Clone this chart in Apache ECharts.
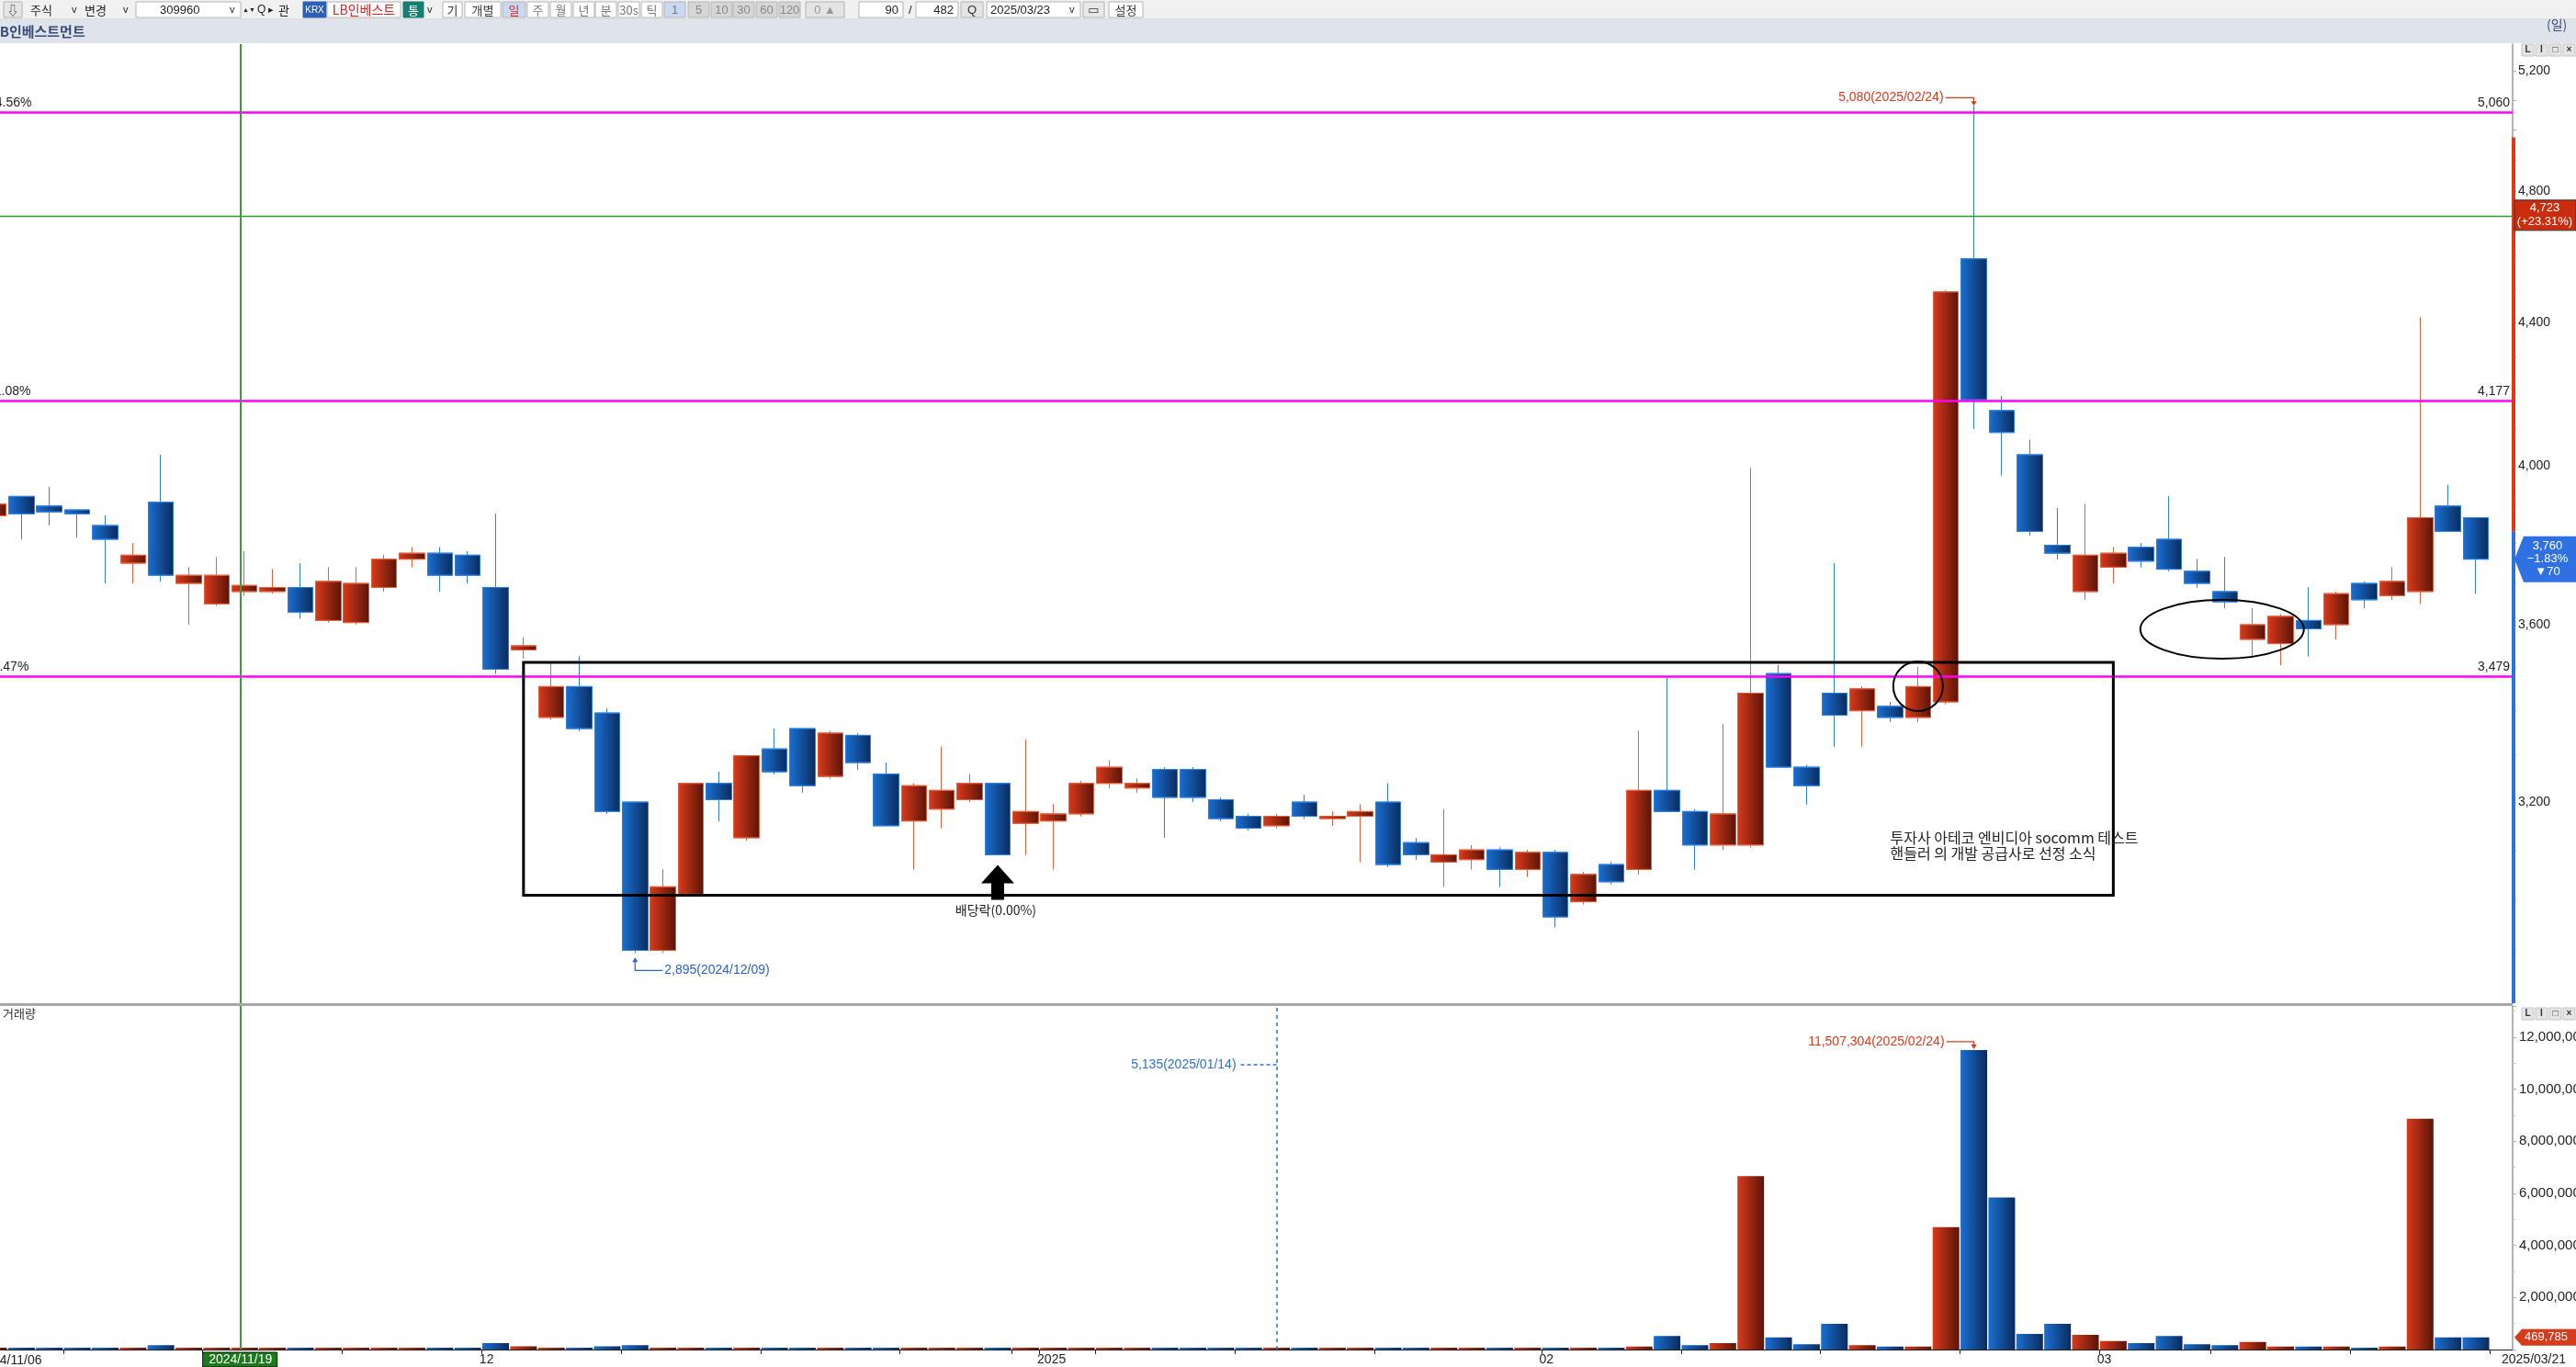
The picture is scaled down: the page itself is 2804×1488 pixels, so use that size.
<!DOCTYPE html>
<html><head><meta charset="utf-8">
<script src="https://cdn.jsdelivr.net/npm/echarts@6/dist/echarts.min.js"></script>
<style>html,body{margin:0;padding:0;background:#fff;overflow:hidden}#c{width:2804px;height:1488px}</style>
</head><body><div id="c"></div><script>
// ---------------- DATA ----------------
const dates = [
'2024/11/06','2024/11/07','2024/11/08','2024/11/11','2024/11/12','2024/11/13','2024/11/14','2024/11/15','2024/11/18','2024/11/19',
'2024/11/20','2024/11/21','2024/11/22','2024/11/25','2024/11/26','2024/11/27','2024/11/28','2024/11/29',
'2024/12/02','2024/12/03','2024/12/04','2024/12/05','2024/12/06','2024/12/09','2024/12/10','2024/12/11','2024/12/12','2024/12/13',
'2024/12/16','2024/12/17','2024/12/18','2024/12/19','2024/12/20','2024/12/23','2024/12/24','2024/12/26','2024/12/27','2024/12/30',
'2025/01/02','2025/01/03','2025/01/06','2025/01/07','2025/01/08','2025/01/09','2025/01/10','2025/01/13','2025/01/14','2025/01/15',
'2025/01/16','2025/01/17','2025/01/20','2025/01/21','2025/01/22','2025/01/23','2025/01/24','2025/01/31',
'2025/02/03','2025/02/04','2025/02/05','2025/02/06','2025/02/07','2025/02/10','2025/02/11','2025/02/12','2025/02/13','2025/02/14',
'2025/02/17','2025/02/18','2025/02/19','2025/02/20','2025/02/21','2025/02/24','2025/02/25','2025/02/26','2025/02/27','2025/02/28',
'2025/03/04','2025/03/05','2025/03/06','2025/03/07','2025/03/10','2025/03/11','2025/03/12','2025/03/13','2025/03/14',
'2025/03/17','2025/03/18','2025/03/19','2025/03/20','2025/03/21'];
const openP = [3870,3920,3895,3885,3845,3750,3905,3700,3650,3680, 3680,3690,3610,3605,3690,3760,3775,3770,
3690,3540,3385,3455,3395,3200,2900,3010,3240,3125, 3315,3360,3255,3345,3260,3160,3185,3205,3240,3155,
3160,3175,3240,3230,3270,3270,3205,3170,3150,3200, 3165,3170,3200,3115,3075,3080,3100,3060,
3095,2995,3070,3060,3225,3180,3110,3110,3485,3275, 3440,3400,3410,3385,3420,4590,4150,4030,3795,3680,
3740,3790,3810,3730,3680,3565,3555,3610,3600, 3700,3670,3680,3895,3865];
const highP = [3910,3920,3945,3885,3870,3800,4030,3740,3765,3780, 3735,3750,3740,3740,3770,3790,3790,3780,
3875,3570,3510,3525,3405,3200,3060,3240,3265,3300, 3360,3360,3355,3350,3285,3240,3320,3260,3240,3335,
3195,3245,3290,3250,3275,3275,3210,3175,3175,3215, 3180,3195,3240,3125,3185,3110,3105,3100,
3100,3055,3075,3355,3475,3185,3370,3995,3505,3280, 3750,3455,3420,3500,4495,5080,4190,4070,3890,3900,
3790,3800,3920,3760,3765,3640,3625,3690,3680, 3705,3740,4415,3950,3865];
const lowP = [3860,3810,3845,3815,3700,3700,3705,3600,3645,3670, 3675,3615,3605,3600,3680,3740,3680,3700,
3485,3520,3380,3355,3175,2895,2895,3005,3160,3120, 3260,3220,3250,3270,3150,3060,3145,3200,3090,3090,
3060,3170,3230,3220,3125,3200,3160,3140,3145,3165, 3150,3075,3065,3080,3025,3060,3025,3045,
2945,2990,3030,3050,3180,3060,3100,3105,3275,3195, 3320,3320,3375,3375,3415,4100,3975,3820,3760,3660,
3700,3740,3730,3690,3640,3525,3505,3525,3565, 3640,3660,3650,3830,3675];
const closeP = [3900,3875,3880,3875,3810,3770,3720,3720,3720,3695, 3690,3630,3705,3700,3760,3775,3720,3720,
3495,3550,3455,3360,3180,2900,3025,3240,3205,3300, 3265,3235,3350,3285,3150,3235,3225,3240,3090,3180,
3175,3240,3275,3240,3210,3210,3165,3145,3170,3170, 3170,3180,3070,3090,3090,3100,3060,3095,
2965,3050,3035,3225,3180,3110,3175,3440,3275,3235, 3390,3450,3385,3455,4490,4180,4090,3830,3775,3770,
3775,3755,3735,3700,3655,3600,3620,3590,3675, 3660,3705,3865,3830,3760];
const volume = [25000,30000,25000,28000,70000,30000,170000,70000,30000,25000, 25000,30000,25000,30000,25000,25000,60000,70000,
250000,120000,70000,60000,120000,170000,30000,70000,25000,25000, 25000,25000,25000,25000,25000,25000,25000,70000,25000,25000,
25000,25000,25000,25000,25000,25000,25000,25000,5135,25000, 25000,25000,70000,25000,25000,25000,25000,25000,
25000,25000,25000,116000,518000,166000,247000,6660000,470000,200000, 988000,166000,116000,116000,4700000,11507304,5840000,600000,988000,564000,
329000,247000,518000,200000,166000,294000,116000,116000,116000, 70000,116000,8870000,470000,469785];
const priceLabelTicks = [3200, 3600, 4000, 4400, 4800, 5200];
const volumeLabelStep = 2000000;
const levelLines = [5060, 4177, 3479];
const levelPct = ['34.56%', '11.08%', '-7.47%'];
const crossPrice = 4723;
const crossIdx = 8.85;
const dividendIdx = 36;
const newsText = ['투자사 아테코 엔비디아 socomm 테스트', '핸들러 의 개발 공급사로 선정 소식'];

// ---------------- LAYOUT ----------------
const slot = 30.36, firstCenter = -7, plotRight = 2735;
const xMin = -firstCenter / slot, xMax = (plotRight - firstCenter) / slot;
const yMin = 2800, yMax = 5293, vMax = 13200000;
const NUMF = "'Liberation Sans Narrow','Liberation Sans','DejaVu Sans',sans-serif";
const KRF = "'Noto Sans CJK KR','Noto Sans',sans-serif";
const fmt = v => Math.round(v).toLocaleString('en-US');
const G = echarts.graphic.LinearGradient;
const redGrad = new G(0,0,1,0,[{offset:0,color:'#d93a1b'},{offset:1,color:'#5a1407'}]);
const blueGrad = new G(0,0,1,0,[{offset:0,color:'#1a6fd2'},{offset:1,color:'#0a2b5c'}]);

const n = dates.length;
const prevClose = closeP[n-2];
const upperLimit = Math.floor(prevClose*1.3/5)*5;
const lowerLimit = Math.max(Math.ceil(prevClose*0.7/5)*5, yMin);

// ticks on date axis: mondays and month starts
const tickVals = [];
dates.forEach((d,i)=>{
  if (i===0) return;
  const dt = new Date(d.replace(/\//g,'-')+'T00:00:00Z');
  const ms = d.slice(5,7)!==dates[i-1].slice(5,7);
  if (dt.getUTCDay()===1 || ms) tickVals.push(i-0.5);
});
tickVals.push(n-0.5);
const xLabels = [];
dates.forEach((d,i)=>{
  if (i===0) return;
  if (d.slice(5,7)!==dates[i-1].slice(5,7)) {
    const t = d.slice(0,4)!==dates[i-1].slice(0,4) ? d.slice(0,4) : d.slice(5,7);
    xLabels.push({v:i-0.5-0.08, t:t});
  }
});
xLabels.push({v:(2723-firstCenter)/slot, t:dates[n-1]});

const priceMinorTicks = [];
for (let p=2900; p<=5200; p+=100) priceMinorTicks.push(p);

const candleData = dates.map((d,i)=>[i, openP[i], closeP[i], lowP[i], highP[i]]);
const volData = volume.map((v,i)=>[i, v, closeP[i]>=openP[i]?1:0]);
const minVolIdx = volume.indexOf(Math.min(...volume));
const maxVolIdx = volume.indexOf(Math.max(...volume));

const mlLabel = {show:true, color:'#222', fontSize:14, fontFamily:NUMF};
const priceML = [];
levelLines.forEach((v,k)=>{
  priceML.push([{x:0, yAxis:v, lineStyle:{color:'#ff00ff', width:2.5, type:'solid'}, label:Object.assign({position:'insideEndTop', formatter:fmt(v), distance:3}, mlLabel)}, {x:plotRight, yAxis:v}]);
});
priceML.push([{x:0, yAxis:crossPrice, lineStyle:{color:'#2f9a2f', width:1.3, type:'solid'}}, {x:plotRight, yAxis:crossPrice}]);
priceML.push({xAxis:crossIdx, lineStyle:{color:'#3c9c3c', width:2, type:'solid'}});
priceML.push([{x:plotRight+1, yAxis:upperLimit, lineStyle:{color:'#dd3a18', width:4, type:'solid'}}, {x:plotRight+1, yAxis:prevClose}]);
priceML.push([{x:plotRight+1, yAxis:prevClose, lineStyle:{color:'#2a72dc', width:4, type:'solid'}}, {x:plotRight+1, yAxis:lowerLimit}]);

const option = {
  animation:false,
  backgroundColor:'#ffffff',
  grid:[{left:0, top:48, width:plotRight, height:1044, containLabel:false, outerBoundsMode:'none'},
        {left:0, top:1095, width:plotRight, height:374, containLabel:false, outerBoundsMode:'none'}],
  xAxis:[
    {type:'value', gridIndex:0, min:xMin, max:xMax, show:false},
    {type:'value', gridIndex:1, min:xMin, max:xMax,
     axisLine:{show:true, onZero:false, lineStyle:{color:'#222', width:1}},
     axisTick:{show:true, customValues:tickVals, length:5, lineStyle:{color:'#222'}},
     splitLine:{show:false},
     axisLabel:{show:true, customValues:xLabels.map(o=>o.v), align:'left', margin:4, fontSize:14, color:'#222', fontFamily:NUMF,
       formatter:(val)=>{let b=xLabels[0]; xLabels.forEach(o=>{if(Math.abs(o.v-val)<Math.abs(b.v-val)) b=o;}); return b.t;}}}
  ],
  yAxis:[
    {type:'log', gridIndex:0, position:'right', min:yMin, max:yMax, logBase:10,
     axisLine:{show:true, lineStyle:{color:'#9a9a9a', width:1.5}},
     axisTick:{show:true, customValues:priceMinorTicks, length:4, lineStyle:{color:'#b0b0b0'}},
     splitLine:{show:false}, minorTick:{show:false},
     axisLabel:{show:true, customValues:priceLabelTicks, formatter:v=>fmt(v), fontSize:14, color:'#222', fontFamily:NUMF, margin:6}},
    {type:'value', gridIndex:1, position:'right', min:0, max:vMax, interval:volumeLabelStep,
     axisLine:{show:true, lineStyle:{color:'#9a9a9a', width:1.5}},
     axisTick:{show:true, length:4, lineStyle:{color:'#b0b0b0'}},
     minorTick:{show:true, splitNumber:2, length:3, lineStyle:{color:'#c8c8c8'}},
     splitLine:{show:false},
     axisLabel:{show:true, showMinLabel:false, showMaxLabel:false, formatter:v=>fmt(v), fontSize:15, color:'#222', fontFamily:NUMF, margin:7}}
  ],
  series:[
    {type:'candlestick', xAxisIndex:0, yAxisIndex:0, data:candleData, encode:{x:0, y:[1,2,3,4]}, barWidth:28, clip:false,
     itemStyle:{color:redGrad, color0:blueGrad, borderColor:'#e2603e', borderColor0:'#2d7fe2', borderWidth:1},
     markLine:{silent:true, symbol:['none','none'], animation:false, label:{show:false}, data:priceML}},
    {type:'custom', xAxisIndex:1, yAxisIndex:1, data:volData, encode:{x:0, y:1}, clip:false,
     renderItem:(params, api)=>{
       const i = api.value(0), v = api.value(1), up = api.value(2);
       const top = api.coord([i, v]), base = api.coord([i, 0]);
       const w = api.size([1, 0])[0] * 0.955;
       const h = Math.max(base[1]-top[1], 2);
       return {type:'rect', shape:{x:top[0]-w/2, y:base[1]-h, width:w, height:h}, style:{fill: up ? redGrad : blueGrad}};
     },
     markLine:{silent:true, symbol:['none','none'], animation:false, label:{show:false},
       data:[{xAxis:crossIdx, lineStyle:{color:'#3c9c3c', width:2, type:'solid'}},
             {xAxis:minVolIdx, lineStyle:{color:'#2f70d0', width:1.5, type:[4,4]}}]}}
  ]
};
const chart = echarts.init(document.getElementById('c'), null, {renderer:'canvas', width:2804, height:1488});
chart.setOption(option);

// ---------------- ANNOTATIONS ----------------
const P = (i,p)=>chart.convertToPixel({gridIndex:0},[i,p]);
const V = (i,v)=>chart.convertToPixel({gridIndex:1},[i,v]);
const els = [];
function T(x,y,text,o){ o=o||{}; els.push({type:'text', x:x, y:y, z:o.z||120, silent:true,
  style:{text:text, fill:o.fill||'#222', fontSize:o.size||13, fontFamily:o.ff||NUMF, fontWeight:o.fw||'normal',
  align:o.al||'left', textAlign:o.al||'left', verticalAlign:o.va||'middle', textVerticalAlign:o.va||'middle'}}); }
function R(x,y,w,h,fill,stroke,lw,z){ els.push({type:'rect', z:z||110, silent:true, shape:{x:x,y:y,width:w,height:h}, style:{fill:fill||'none', stroke:stroke||null, lineWidth:lw||1}}); }
function L(pts,stroke,lw,dash,z){ els.push({type:'polyline', z:z||120, silent:true, shape:{points:pts}, style:{stroke:stroke, lineWidth:lw||1, fill:null, lineDash:dash||null}}); }
function PG(pts,fill,z){ els.push({type:'polygon', z:z||120, silent:true, shape:{points:pts}, style:{fill:fill}}); }

// toolbar
R(0,0,2804,21,'#f1f1f1',null,0,100);
L([[0,21],[2804,21]],'#c8c8c8',1,null,101);
function btn(x,w,t,o){ o=o||{}; R(x,2,w,17,o.bg||'#ffffff',o.bd||'#b4b4b4',1,101); if(t) T(x+w/2,11,t,{al:'center',fill:o.fc||'#333',size:o.sz||13,ff:o.ff||KRF,z:102}); }
btn(4,20,'⇩',{bg:'#e6e6e6'});
T(33,11,'주식',{ff:KRF,size:13,z:102}); T(78,11,'v',{size:11,z:102});
T(92,11,'변경',{ff:KRF,size:13,z:102}); T(134,11,'v',{size:11,z:102});
btn(148,114,''); T(174,11,'309960',{size:13,z:102}); T(250,11,'v',{size:11,z:102});
T(264,11,'▲▼',{size:7,z:102}); T(280,11,'Q',{size:12,z:102}); T(292,11,'▸',{size:11,z:102}); T(303,11,'관',{ff:KRF,size:13,z:102});
btn(330,25,'KRX',{bg:'#2d5fb4',fc:'#fff',sz:10,ff:NUMF,bd:'#2d5fb4'});
btn(356,80,'LB인베스트',{fc:'#e02020',sz:14});
btn(439,22,'통',{bg:'#177d72',fc:'#fff',bd:'#177d72'}); T(465,11,'v',{size:11,z:102});
btn(482,21,'기'); btn(506,39,'개별');
btn(547,25,'일',{bg:'#cbd9f0',fc:'#e02020'});
[['주',574],['월',599],['년',624],['분',648],['30s',673],['틱',698]].forEach(a=>btn(a[1],23,a[0],{fc:'#777'}));
btn(723,23,'1',{bg:'#cbd9f0',fc:'#777',ff:NUMF});
[['5',749],['10',774],['30',798],['60',823],['120',848]].forEach(a=>btn(a[1],23,a[0],{bg:'#d6d6d6',fc:'#888',ff:NUMF}));
btn(877,42,'0 ▲',{bg:'#e4e4e4',fc:'#999',ff:NUMF});
btn(935,48,''); T(978,11,'90',{al:'right',size:13,z:102});
T(989,11,'/',{size:13,z:102});
btn(997,46,''); T(1038,11,'482',{al:'right',size:13,z:102});
btn(1046,24,'Q',{bg:'#e4e4e4',ff:NUMF});
btn(1074,102,''); T(1078,11,'2025/03/23',{size:13,z:102}); T(1164,11,'v',{size:11,z:102});
btn(1179,23,'▭',{bg:'#e8e8e8',ff:NUMF}); btn(1207,37,'설정');
// title bar
R(0,22,2804,25,'#dfe4ec',null,0,100);
T(-9,34,'LB인베스트먼트',{ff:KRF,size:15,fw:'bold',fill:'#3b4d72',z:102});
T(2772,27,'(일)',{ff:KRF,size:14,fill:'#3b4d72',z:102});
// pane icons
function icons(y){ ['L','I','□','×'].forEach((g,k)=>{ R(2745+k*15,y,13,13,'#e4e4e4','#c4c4c4',1,105); T(2751.5+k*15,y+6.5,g,{al:'center',size:10,fw:'bold',fill:'#333',z:106}); }); }
icons(48); icons(1097);
// pane separator
R(0,1092,plotRight,3,'#a8a8a8',null,0,105);
T(3,1103,'거래량',{ff:KRF,size:13,fill:'#333'});
// first date label (cut at left edge)
T(-8,1481,dates[0].slice(2),{size:14,fill:'#222'});
// left percent labels on level lines
levelLines.forEach((v,k)=>{ const p = P(crossIdx, v); T(-13,p[1]-10,levelPct[k],{size:14,fill:'#222'}); });

// box, circle, ellipse
const b1 = P(19,3511), b2 = P(76,3008);
R(b1[0],b1[1],b2[0]-b1[0],b2[1]-b1[1],'none','#000',3,115);
const c1 = P(69,3456);
els.push({type:'circle', z:115, silent:true, shape:{cx:c1[0],cy:c1[1],r:27}, style:{fill:'none',stroke:'#000',lineWidth:2}});
const e1 = P(79.9,3589);
els.push({type:'ellipse', z:115, silent:true, shape:{cx:e1[0],cy:e1[1],rx:89,ry:32}, style:{fill:'none',stroke:'#000',lineWidth:2}});
// news text
const nt = P(68,3141);
T(nt[0],nt[1]+8,newsText[0],{ff:KRF,size:16,fill:'#222'});
T(nt[0],nt[1]+25,newsText[1],{ff:KRF,size:16,fill:'#222'});
// dividend arrow
const dv = P(dividendIdx, lowP[dividendIdx]);
const ax = dv[0], at = dv[1]+11;
PG([[ax,at],[ax+18,at+20],[ax+7,at+20],[ax+7,at+38],[ax-7,at+38],[ax-7,at+20],[ax-18,at+20]],'#000');
T(ax-2,at+49,'배당락(0.00%)',{al:'center',ff:KRF,size:14,fill:'#222'});
// low label
const lowIdx = lowP.indexOf(Math.min(...lowP));
const lp = P(lowIdx, lowP[lowIdx]);
L([[lp[0],lp[1]+7],[lp[0],lp[1]+19],[lp[0]+30,lp[1]+19]],'#2a62c8',1.2);
PG([[lp[0],lp[1]+5],[lp[0]-3,lp[1]+10],[lp[0]+3,lp[1]+10]],'#2a62c8');
T(lp[0]+32,lp[1]+19,fmt(lowP[lowIdx])+'('+dates[lowIdx]+')',{fill:'#2a62c8',size:14});
// high label
const highIdx = highP.indexOf(Math.max(...highP));
const hp = P(highIdx, highP[highIdx]);
L([[hp[0]-31,hp[1]-9],[hp[0],hp[1]-9],[hp[0],hp[1]-3]],'#d83a1a',1.2);
PG([[hp[0],hp[1]],[hp[0]-3,hp[1]-5],[hp[0]+3,hp[1]-5]],'#d83a1a');
T(hp[0]-33,hp[1]-9,fmt(highP[highIdx])+'('+dates[highIdx]+')',{al:'right',fill:'#d83a1a',size:14});
// volume max label
const vp = V(maxVolIdx, volume[maxVolIdx]);
L([[vp[0]-30,vp[1]-9],[vp[0],vp[1]-9],[vp[0],vp[1]-4]],'#d83a1a',1.2);
PG([[vp[0],vp[1]-1],[vp[0]-3,vp[1]-6],[vp[0]+3,vp[1]-6]],'#d83a1a');
T(vp[0]-32,vp[1]-9,fmt(volume[maxVolIdx])+'('+dates[maxVolIdx]+')',{al:'right',fill:'#d83a1a',size:14});
// volume min label
const mp = V(minVolIdx, vMax);
L([[mp[0]-39,mp[1]+64],[mp[0],mp[1]+64]],'#2f70d0',1.5,[4,3]);
T(mp[0]-44,mp[1]+64,fmt(volume[minVolIdx])+'('+dates[minVolIdx]+')',{al:'right',fill:'#2f70d0',size:14});
// crosshair price tag
const cp = P(crossIdx, crossPrice);
R(2737,cp[1]-17,67,33,'#c92d0d','#333',1,130);
T(2770,cp[1]-8,fmt(crossPrice),{al:'center',fill:'#fff',size:13,z:131});
T(2770,cp[1]+7,'(+23.31%)',{al:'center',fill:'#fff',size:13,z:131});
// crosshair date tag
const cd = V(crossIdx, 0);
R(cd[0]-41,1472,81,16,'#1b7a1b','#111',1,130);
T(cd[0],1480,dates[Math.round(crossIdx)],{al:'center',fill:'#fff',size:14,z:131});
// last price tag
const lc = P(n-1, closeP[n-1]);
const cy = lc[1];
PG([[2737,cy],[2747,cy-25],[2804,cy-25],[2804,cy+25],[2747,cy+25]],'#2f70e2',130);
T(2773,cy-14,fmt(closeP[n-1]),{al:'center',fill:'#fff',size:13,z:131});
T(2773,cy,'−'+(Math.abs(closeP[n-1]-prevClose)/prevClose*100).toFixed(2)+'%',{al:'center',fill:'#fff',size:13,z:131});
T(2773,cy+14,'▼'+Math.abs(closeP[n-1]-prevClose),{al:'center',fill:'#fff',size:13,z:131});
// last volume tag
const lv = V(n-1, volume[n-1]);
PG([[2737,lv[1]],[2745,lv[1]-9],[2804,lv[1]-9],[2804,lv[1]+9],[2745,lv[1]+9]],'#d63b1b',130);
T(2748,lv[1],fmt(volume[n-1]),{fill:'#fff',size:13,z:131});

chart.setOption({graphic:{elements:els}});
</script></body></html>
